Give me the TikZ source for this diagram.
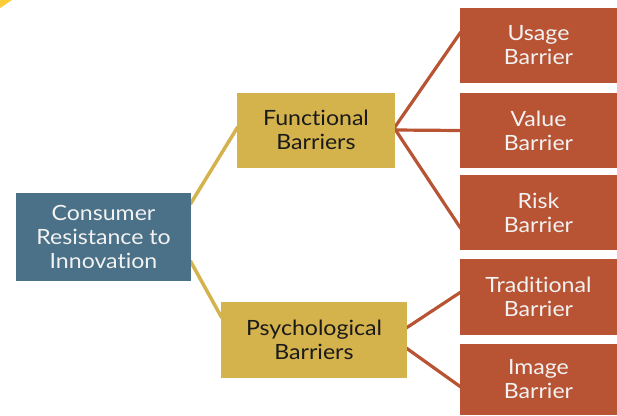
\documentclass[tikz,border=0pt]{standalone}
\usepackage{fontspec}
\setmainfont{Lato}[Ligatures=CommonOff, FakeStretch=1.1]
\usetikzlibrary{calc,backgrounds}
\definecolor{cblue}{RGB}{74,113,136}
\definecolor{cyel}{RGB}{212,178,76}
\definecolor{cred}{RGB}{184,84,52}
\definecolor{ccorner}{RGB}{250,204,56}
\definecolor{ctextw}{RGB}{242,242,242}
\definecolor{ctextk}{RGB}{26,26,26}
\tikzset{
  box/.style={rectangle, inner sep=0pt, align=center, font=\fontsize{21}{24}\selectfont},
  bluebox/.style={box, fill=cblue, text=ctextw},
  yelbox/.style={box, fill=cyel, text=ctextk},
  redbox/.style={box, fill=cred, text=ctextw, minimum width=157pt},
  yline/.style={draw=cyel, line width=3.5pt},
  rline/.style={draw=cred, line width=3.2pt},
}
\begin{document}
\begin{tikzpicture}[x=1pt,y=-1pt]
\useasboundingbox (0,0) rectangle (617,415);
\fill[ccorner] (0,0) -- (12,0) -- (0,8) -- cycle;
\node[bluebox, minimum width=175pt, minimum height=88pt] (cons) at (103.5,237) {Consumer\\Resistance to\\Innovation};
\node[yelbox, minimum width=158pt, minimum height=75pt] (func) at (316,130) {Functional\\Barriers};
\node[yelbox, minimum width=186pt, minimum height=76pt] (psych) at (314,340) {Psychological\\Barriers};
\node[redbox, minimum height=75pt] (usage) at (538.5,45.5) {Usage\\Barrier};
\node[redbox, minimum height=75pt] (value) at (538.5,130.5) {Value\\Barrier};
\node[redbox, minimum height=75pt] (risk) at (538.5,212.5) {Risk\\Barrier};
\node[redbox, minimum height=76pt] (trad) at (538.5,297) {Traditional\\Barrier};
\node[redbox, minimum height=71pt] (image) at (538.5,379.5) {Image\\Barrier};
\begin{scope}[on background layer]
\draw[yline] ($(cons.north east)+(-1,11.5)$) -- ($(func.west)+(1,-3.2)$);
\draw[yline] ($(cons.south east)+(-1,-20.5)$) -- ($(psych.west)+(1,-22.2)$);
\draw[rline] ($(func.east)+(-1,-2)$) -- ($(usage.west)+(1,-13.5)$);
\draw[rline] ($(func.east)+(-1,0)$) -- ($(value.west)+(1,0)$);
\draw[rline] ($(func.east)+(-1,-2)$) -- ($(risk.west)+(1,16)$);
\draw[rline] ($(psych.east)+(-1,-12)$) -- ($(trad.west)+(1,-5)$);
\draw[rline] ($(psych.east)+(-1,8)$) -- ($(image.west)+(1,7.5)$);
\end{scope}
\end{tikzpicture}
\end{document}
